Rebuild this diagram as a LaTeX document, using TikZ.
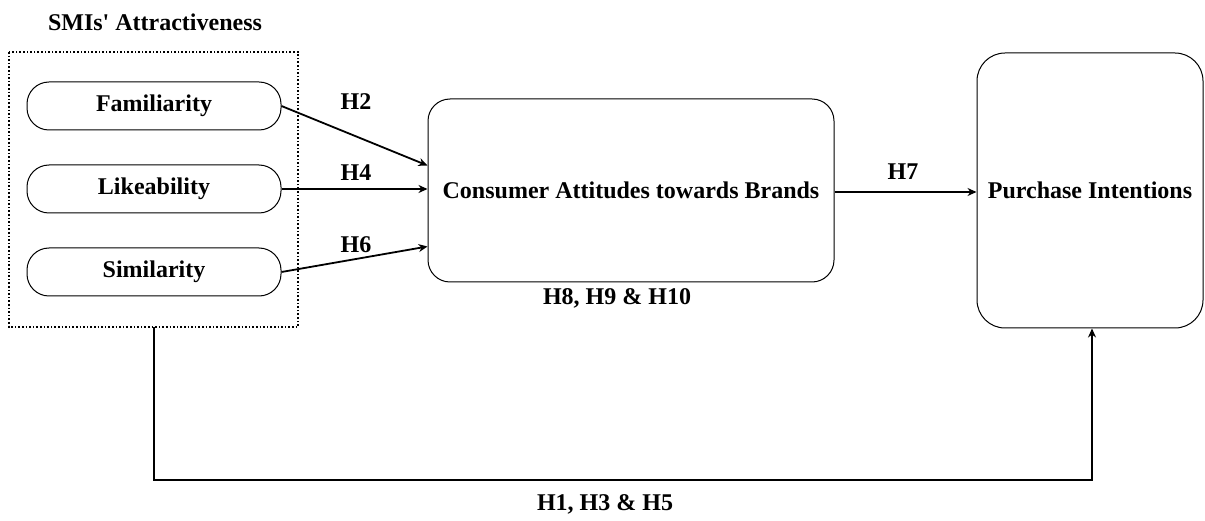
\documentclass[tikz,border=0pt]{standalone}
\usepackage{fontspec}
\setmainfont{Liberation Serif}
\usetikzlibrary{arrows.meta}
\begin{document}
\begin{tikzpicture}[x=1pt,y=-1pt,
  every node/.style={font=\fontsize{24}{28}\selectfont\bfseries, inner sep=0pt},
  pill/.style={draw, line width=1pt, rounded corners=22pt, minimum width=254pt, minimum height=48pt},
  bigbox/.style={draw, line width=1pt},
  conn/.style={line width=1.8pt, -{Stealth[length=9pt,width=8pt]}},
  lbl/.style={anchor=center}]
\useasboundingbox (0,0) rectangle (1205,521);

% grouping frame and its title
\draw[line width=1.6pt, dotted] (9,52) rectangle (298,327);
\node[lbl] (title) at (155,22) {SMIs\textquotesingle\ Attractiveness};

% antecedents
\node[pill] (fam) at (154,106) {Familiarity};
\node[pill] (lik) at (154,189) {Likeability};
\node[pill] (sim) at (154,272) {Similarity};

% mediator and outcome
\node[bigbox, rounded corners=22pt, minimum width=406pt, minimum height=183pt] (cab) at (631,190.5) {Consumer Attitudes towards Brands};
\node[bigbox, rounded corners=28pt, minimum width=226pt, minimum height=275pt] (pi) at (1090,190.5) {Purchase Intentions};

% paths into the mediator
\draw[conn] (fam.east) -- ([yshift=25pt]cab.west);
\draw[conn] (lik.east) -- (cab.west |- lik.east);
\draw[conn] (sim.east) -- ([yshift=-56pt]cab.west);
\node[lbl] (h2) at (356,102) {H2};
\node[lbl] (h4) at (356,173) {H4};
\node[lbl] (h6) at (356,245) {H6};

% mediator to outcome
\draw[conn] (cab.east |- 0,192) -- (pi.west |- 0,192);
\node[lbl] (h7) at (903,172) {H7};
\node[lbl] (h8) at (617,298) {H8, H9 \& H10};

% direct effect
\coordinate (frameb) at (154,327);
\coordinate (c1) at (154,480);
\coordinate (c2) at (1092,480);
\draw[conn] (frameb) -- (c1) -- (c2) -- (c2 |- pi.south);
\node[lbl] (h1) at (605,504) {H1, H3 \& H5};
\end{tikzpicture}
\end{document}
